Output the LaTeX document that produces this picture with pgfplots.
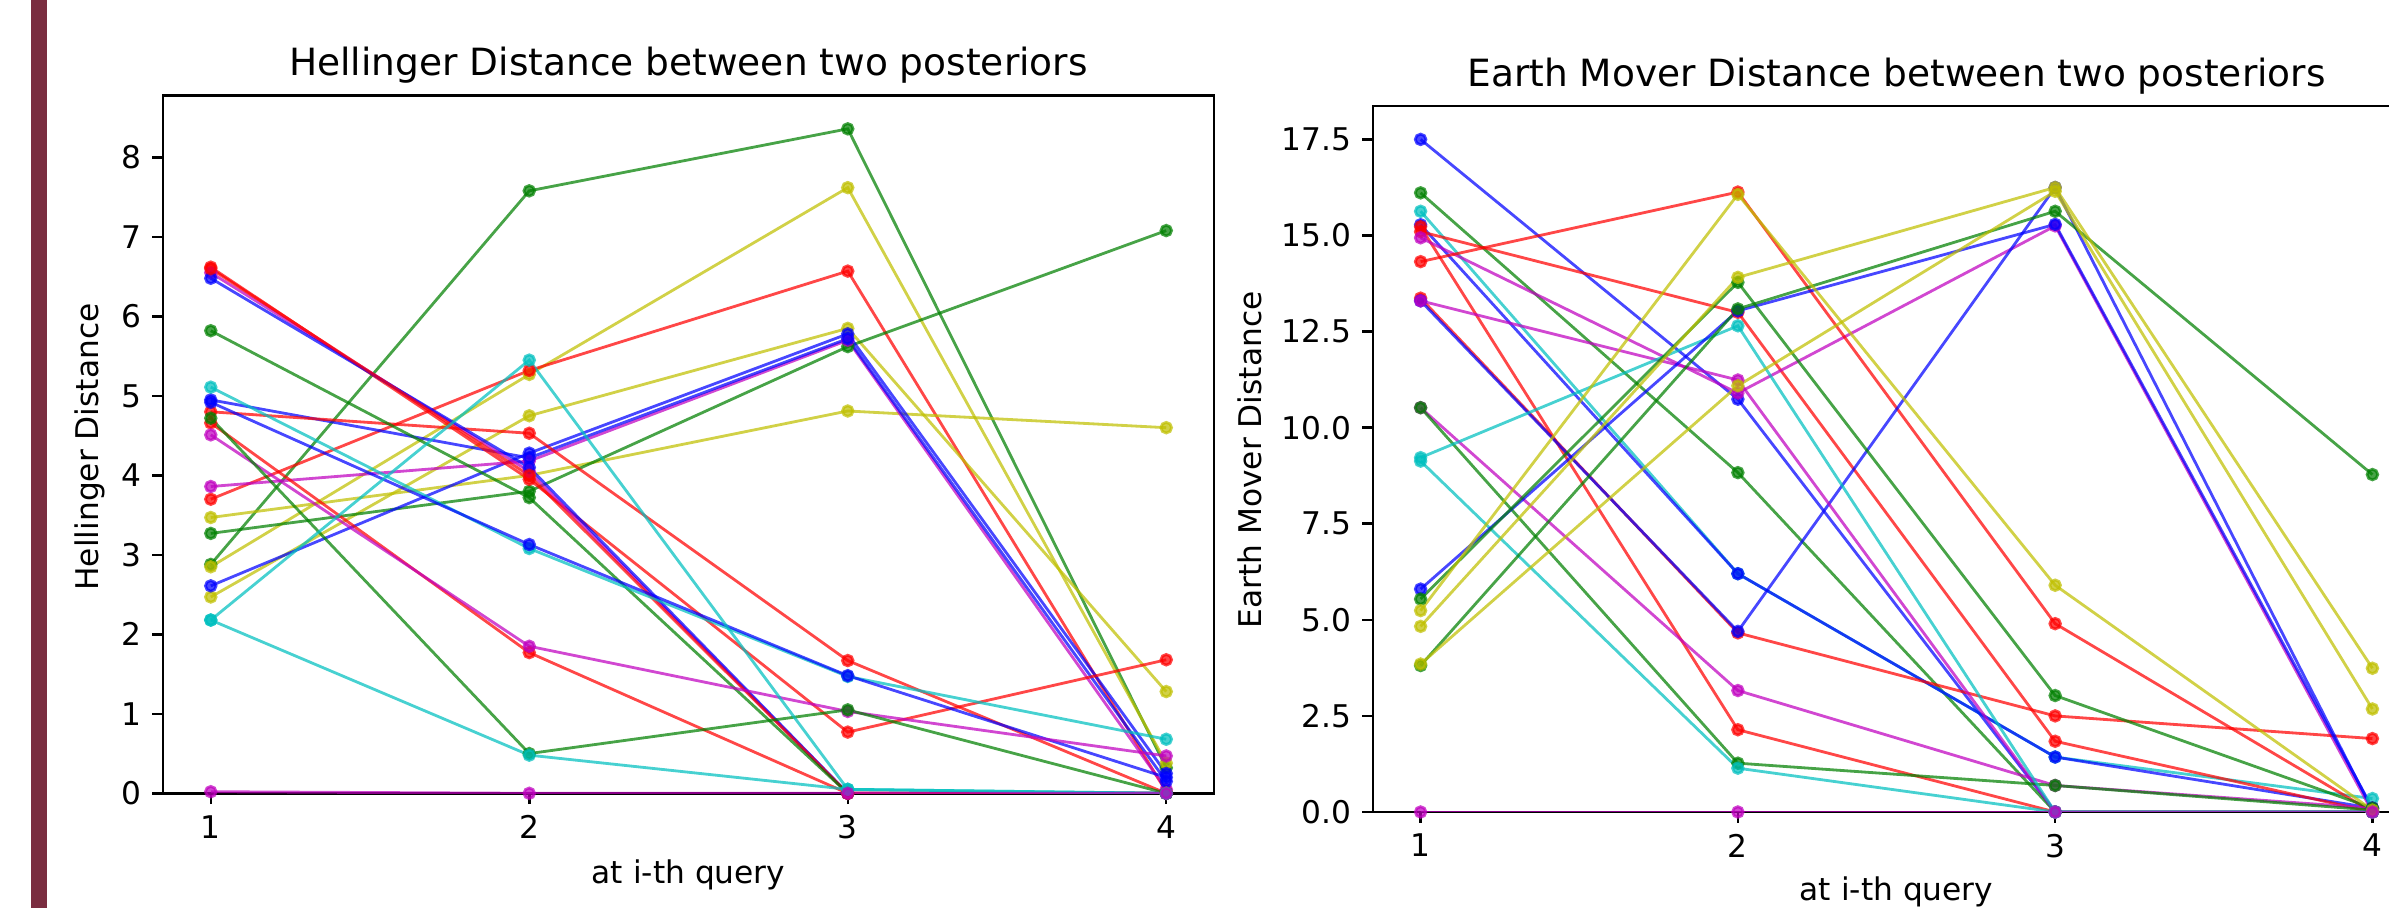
\documentclass[border=0pt]{standalone}
\usepackage{fontspec}
\setmainfont{DejaVu Sans}
\usepackage{pgfplots}
\pgfplotsset{compat=1.18}
\definecolor{mb}{rgb}{0,0,1}
\definecolor{mg}{rgb}{0,0.5,0}
\definecolor{mr}{rgb}{1,0,0}
\definecolor{mc}{rgb}{0,0.75,0.75}
\definecolor{mm}{rgb}{0.75,0,0.75}
\definecolor{my}{rgb}{0.75,0.75,0}
\definecolor{barc}{RGB}{122,45,64}
\pgfplotsset{
  common/.style={
    scale only axis, anchor=south west,
    xmin=0.85, xmax=4.15, ymin=0,
    xtick={1,2,3,4},
    tick pos=left, tick align=outside,
    major tick length=3.5pt,
    every tick/.style={black, line width=0.8pt},
    axis line style={line width=0.8pt},
    tick label style={font=\fontsize{10}{12}\selectfont},
    /pgf/number format/assume math mode=true,
    every axis plot/.append style={line width=0.9pt, mark=*, mark size=1.7pt, opacity=0.72, mark options={solid}},
  }
}
\begin{document}
\begin{tikzpicture}
\useasboundingbox (0,0) rectangle (764.48pt,290.56pt);
\fill[barc] (9.92pt,0) rectangle (15.04pt,290.56pt);
\begin{axis}[common, at={(52.16pt,36.70pt)}, width=336.32pt, height=223.30pt,
  ymax=8.78, ytick={0,1,...,8}]
\addplot[mg] coordinates {(1,2.88)(2,7.58)(3,8.36)(4,0.32)};
\addplot[my] coordinates {(1,2.85)(2,5.27)(3,7.62)(4,0.38)};
\addplot[mr] coordinates {(1,3.70)(2,5.32)(3,6.57)(4,0.02)};
\addplot[my] coordinates {(1,2.47)(2,4.75)(3,5.85)(4,1.28)};
\addplot[my] coordinates {(1,3.47)(2,4.00)(3,4.81)(4,4.60)};
\addplot[mg] coordinates {(1,3.27)(2,3.80)(3,5.62)(4,7.08)};
\addplot[mb] coordinates {(1,2.61)(2,4.28)(3,5.78)(4,0.25)};
\addplot[mm] coordinates {(1,3.86)(2,4.18)(3,5.70)(4,0.05)};
\addplot[mb] coordinates {(1,4.95)(2,4.22)(3,5.72)(4,0.15)};
\addplot[mr] coordinates {(1,4.80)(2,4.53)(3,1.67)(4,0.00)};
\addplot[mr] coordinates {(1,6.62)(2,3.95)(3,0.77)(4,1.68)};
\addplot[mm] coordinates {(1,6.55)(2,4.05)(3,0.00)(4,0.00)};
\addplot[mb] coordinates {(1,6.48)(2,4.10)(3,0.00)(4,0.00)};
\addplot[mr] coordinates {(1,6.60)(2,4.00)(3,0.00)(4,0.00)};
\addplot[mg] coordinates {(1,5.82)(2,3.72)(3,0.00)(4,0.00)};
\addplot[mc] coordinates {(1,5.11)(2,3.08)(3,1.47)(4,0.68)};
\addplot[mb] coordinates {(1,4.92)(2,3.13)(3,1.48)(4,0.20)};
\addplot[mr] coordinates {(1,4.66)(2,1.77)(3,0.00)(4,0.00)};
\addplot[mm] coordinates {(1,4.51)(2,1.85)(3,1.03)(4,0.47)};
\addplot[mg] coordinates {(1,4.72)(2,0.50)(3,1.05)(4,0.00)};
\addplot[mc] coordinates {(1,2.18)(2,5.45)(3,0.05)(4,0.00)};
\addplot[mc] coordinates {(1,2.18)(2,0.48)(3,0.05)(4,0.00)};
\addplot[mm] coordinates {(1,0.02)(2,0.00)(3,0.00)(4,0.00)};
\end{axis}
\begin{axis}[common, at={(439.36pt,30.72pt)}, width=335.04pt, height=225.92pt,
  ymax=18.37, ytick={0,2.5,...,17.5},
  yticklabel style={/pgf/number format/.cd, fixed, fixed zerofill, precision=1}]
\addplot[mb] coordinates {(1,17.50)(2,10.74)(3,0.00)(4,0.00)};
\addplot[mg] coordinates {(1,16.11)(2,8.83)(3,0.00)(4,0.00)};
\addplot[mc] coordinates {(1,15.63)(2,6.20)(3,1.43)(4,0.35)};
\addplot[mb] coordinates {(1,15.28)(2,6.20)(3,1.43)(4,0.10)};
\addplot[mr] coordinates {(1,15.23)(2,2.14)(3,0.00)(4,0.00)};
\addplot[mr] coordinates {(1,15.10)(2,13.00)(3,1.84)(4,0.00)};
\addplot[mm] coordinates {(1,14.94)(2,10.90)(3,15.25)(4,0.00)};
\addplot[mr] coordinates {(1,14.32)(2,16.13)(3,4.90)(4,0.00)};
\addplot[mr] coordinates {(1,13.37)(2,4.66)(3,2.50)(4,1.91)};
\addplot[mb] coordinates {(1,13.30)(2,4.70)(3,16.25)(4,0.05)};
\addplot[mm] coordinates {(1,13.30)(2,11.24)(3,0.00)(4,0.00)};
\addplot[mm] coordinates {(1,10.52)(2,3.16)(3,0.69)(4,0.10)};
\addplot[mg] coordinates {(1,10.52)(2,1.27)(3,0.69)(4,0.05)};
\addplot[mc] coordinates {(1,9.22)(2,12.65)(3,0.00)(4,0.00)};
\addplot[mc] coordinates {(1,9.13)(2,1.14)(3,0.00)(4,0.00)};
\addplot[mb] coordinates {(1,5.80)(2,13.04)(3,15.29)(4,0.10)};
\addplot[mg] coordinates {(1,5.54)(2,13.78)(3,3.03)(4,0.10)};
\addplot[mg] coordinates {(1,3.81)(2,13.09)(3,15.63)(4,8.78)};
\addplot[my] coordinates {(1,5.24)(2,16.07)(3,5.90)(4,0.05)};
\addplot[my] coordinates {(1,4.83)(2,13.91)(3,16.25)(4,3.74)};
\addplot[my] coordinates {(1,3.85)(2,11.09)(3,16.15)(4,2.68)};
\addplot[mm] coordinates {(1,0.00)(2,0.00)(3,0.00)(4,0.00)};
\end{axis}
\node[anchor=base, font=\fontsize{12}{14}\selectfont] at (220.32pt,266.24pt) {Hellinger Distance between two posteriors};
\node[anchor=base, font=\fontsize{12}{14}\selectfont] at (606.88pt,262.72pt) {Earth Mover Distance between two posteriors};
\node[anchor=base, font=\fontsize{10}{12}\selectfont] at (220.32pt,7.68pt) {at i-th query};
\node[anchor=base, font=\fontsize{10}{12}\selectfont] at (606.88pt,2.24pt) {at i-th query};
\node[rotate=90, anchor=center, font=\fontsize{10}{12}\selectfont] at (28.8pt,147.52pt) {Hellinger Distance};
\node[rotate=90, anchor=center, font=\fontsize{10}{12}\selectfont] at (400pt,143.36pt) {Earth Mover Distance};
\end{tikzpicture}
\end{document}
